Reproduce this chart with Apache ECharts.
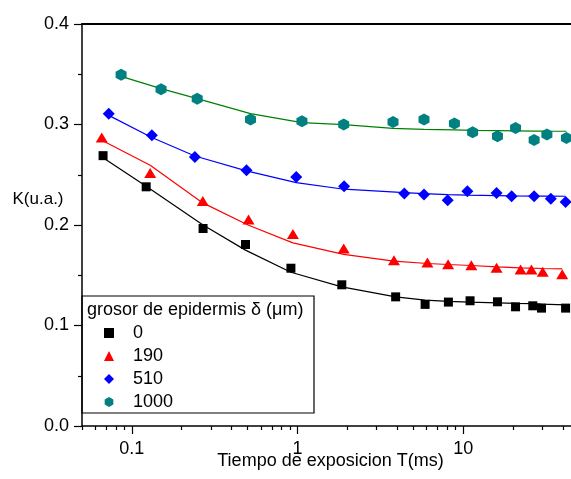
<!DOCTYPE html>
<html>
<head>
<meta charset="utf-8">
<script src="https://cdn.jsdelivr.net/npm/echarts@6/dist/echarts.min.js"></script>
<style>
html,body{margin:0;padding:0;background:#fff;overflow:hidden;}
#chart{width:571px;height:479px;}
</style>
</head>
<body>
<div id="chart"></div>
<script>
// ---- data ----
const seriesNames = ['0', '190', '510', '1000'];

const tBlack = [0.067, 0.122, 0.269, 0.485, 0.912, 1.85, 3.91, 5.89, 8.14, 11.0, 16.1, 20.7, 26.3, 29.7, 41.5];
const kBlack = [0.269, 0.238, 0.1965, 0.1806, 0.157, 0.1405, 0.1285, 0.121, 0.1233, 0.1246, 0.1236, 0.1186, 0.1196, 0.1173, 0.1173];
const fitBlack = [0.267, 0.2386, 0.200, 0.175, 0.153, 0.1385, 0.1285, 0.1252, 0.124, 0.1233, 0.1226, 0.122, 0.1217, 0.1213, 0.1206];

const tRed = [0.0658, 0.129, 0.268, 0.506, 0.938, 1.90, 3.82, 6.08, 8.11, 11.2, 15.9, 22.2, 25.8, 30.2, 39.6];
const kRed = [0.287, 0.2518, 0.224, 0.2055, 0.191, 0.1766, 0.165, 0.1627, 0.161, 0.160, 0.1574, 0.1557, 0.1557, 0.1534, 0.151];
const fitRed = [0.2843, 0.2594, 0.222, 0.1998, 0.1822, 0.1707, 0.164, 0.1617, 0.1607, 0.1597, 0.1584, 0.1574, 0.157, 0.1567, 0.1564];

const tBlue = [0.0725, 0.132, 0.240, 0.492, 0.982, 1.91, 4.41, 5.80, 8.06, 10.6, 15.9, 19.6, 26.8, 33.8, 41.5];
const kBlue = [0.3108, 0.2893, 0.2677, 0.2545, 0.2478, 0.2386, 0.2313, 0.2303, 0.2247, 0.2336, 0.2319, 0.2286, 0.2286, 0.226, 0.223];
const fitBlue = [0.3091, 0.287, 0.2687, 0.2538, 0.2422, 0.2356, 0.2323, 0.2313, 0.2303, 0.2298, 0.2293, 0.229, 0.2288, 0.2287, 0.2286];

const tTeal = [0.0861, 0.150, 0.248, 0.520, 1.063, 1.90, 3.77, 5.80, 8.85, 11.4, 16.1, 20.7, 26.8, 32.0, 42.0];
const kTeal = [0.3496, 0.335, 0.3257, 0.3049, 0.3032, 0.300, 0.3025, 0.3049, 0.3009, 0.2922, 0.2883, 0.2966, 0.2846, 0.290, 0.2866];
const fitTeal = [0.3479, 0.3357, 0.3257, 0.3108, 0.3019, 0.2999, 0.2962, 0.2952, 0.2946, 0.2942, 0.2939, 0.2937, 0.2935, 0.2934, 0.2933];

const xMajorTicks = [0.1, 1, 10];
const xMinorTicks = [0.05, 0.06, 0.07, 0.08, 0.09, 0.2, 0.3, 0.4, 0.5, 0.6, 0.7, 0.8, 0.9, 2, 3, 4, 5, 6, 7, 8, 9, 20, 30, 40, 50];

const xTitle = 'Tiempo de exposicion T(ms)';
const yTitle = 'K(u.a.)';
const legendTitle = 'grosor de epidermis \u03B4 (\u03BCm)';

// ---- build ----
const FONT = '"Liberation Sans", Arial, sans-serif';
const hexPath = 'path://M0,-1 L0.866,-0.5 L0.866,0.5 L0,1 L-0.866,0.5 L-0.866,-0.5 Z';
const zip = (xs, ys) => xs.map((x, i) => [x, ys[i]]);

const chart = echarts.init(document.getElementById('chart'), null, {renderer: 'canvas'});

const scatterCfg = [
  {name: seriesNames[0], t: tBlack, k: kBlack, fit: fitBlack, color: '#000000', line: '#000000', symbol: 'rect', size: [9, 9]},
  {name: seriesNames[1], t: tRed, k: kRed, fit: fitRed, color: '#ff0000', line: '#ff0000', symbol: 'triangle', size: [12, 10]},
  {name: seriesNames[2], t: tBlue, k: kBlue, fit: fitBlue, color: '#0000ff', line: '#0000ff', symbol: 'diamond', size: [12, 12]},
  {name: seriesNames[3], t: tTeal, k: kTeal, fit: fitTeal, color: '#008080', line: '#008000', symbol: hexPath, size: [11, 12]}
];

const series = [];
scatterCfg.forEach(c => {
  series.push({
    name: c.name + ' fit', type: 'line', data: zip(c.t, c.fit),
    showSymbol: false, symbol: 'none', smooth: false,
    lineStyle: {color: c.line, width: 1.2}, z: 2, silent: true
  });
});
scatterCfg.forEach(c => {
  series.push({
    name: c.name, type: 'scatter', data: zip(c.t, c.k),
    symbol: c.symbol, symbolSize: c.size, symbolKeepAspect: false,
    itemStyle: {color: c.color, opacity: 1}, z: 3
  });
});

const option = {
  animation: false,
  backgroundColor: '#ffffff',
  grid: {left: 82, width: 497, top: 24, height: 402, show: false, outerBoundsMode: 'none', containLabel: false},
  xAxis: [
    {
      type: 'log', logBase: 10, min: 0.05, max: 50, position: 'bottom',
      axisLine: {show: true, lineStyle: {color: '#000', width: 1.5}},
      axisTick: {show: true, length: 8, inside: false, lineStyle: {color: '#000', width: 1.2}, customValues: xMajorTicks},
      axisLabel: {show: true, margin: 14, color: '#000', fontSize: 18, fontFamily: FONT, customValues: xMajorTicks,
        formatter: v => String(+(+v).toPrecision(3))},
      splitLine: {show: false}, minorTick: {show: false}, minorSplitLine: {show: false},
      name: xTitle, nameLocation: 'middle', nameGap: 35, nameMoveOverlap: false,
      nameTextStyle: {color: '#000', fontSize: 18, fontFamily: FONT, verticalAlign: 'middle'}
    },
    {
      type: 'log', logBase: 10, min: 0.05, max: 50, position: 'bottom', offset: 0,
      axisLine: {show: false},
      axisTick: {show: true, length: 4, inside: false, lineStyle: {color: '#000', width: 1.2}, customValues: xMinorTicks},
      axisLabel: {show: false},
      splitLine: {show: false}
    },
    {
      type: 'log', logBase: 10, min: 0.05, max: 50, position: 'top',
      axisLine: {show: true, onZero: false, lineStyle: {color: '#000', width: 2}},
      axisTick: {show: false}, axisLabel: {show: false}, splitLine: {show: false}
    }
  ],
  yAxis: {
    type: 'value', min: 0, max: 0.4, interval: 0.1,
    axisLine: {show: true, lineStyle: {color: '#000', width: 1.5}},
    axisTick: {show: true, length: 8, inside: false, lineStyle: {color: '#000', width: 1.2}},
    minorTick: {show: true, splitNumber: 2, length: 4, lineStyle: {color: '#000', width: 1.2}},
    axisLabel: {margin: 13, color: '#000', fontSize: 18, fontFamily: FONT, formatter: v => v.toFixed(1)},
    splitLine: {show: false}
  },
  legend: {
    data: seriesNames.map((n, i) => ({name: n, icon: scatterCfg[i].symbol})),
    orient: 'vertical', left: 104, top: 324, padding: 0,
    itemWidth: 10, itemHeight: 10, itemGap: 5,
    selectedMode: false,
    textStyle: {color: '#000', fontSize: 18, fontFamily: FONT, lineHeight: 18, padding: [0, 0, 0, 14]}
  },
  graphic: [
    {type: 'rect', shape: {x: 82, y: 296, width: 232, height: 117}, style: {fill: 'none', stroke: '#000', lineWidth: 1.2}, z: 10},
    {type: 'text', x: 87, y: 310.5, style: {text: legendTitle, fill: '#000', font: '18px ' + FONT, textVerticalAlign: 'middle', verticalAlign: 'middle'}, z: 10},
    {type: 'text', x: 12.5, y: 199, style: {text: yTitle, fill: '#000', font: '17px ' + FONT, textVerticalAlign: 'middle', verticalAlign: 'middle'}, z: 10}
  ],
  series: series
};
chart.setOption(option);
</script>
</body>
</html>
